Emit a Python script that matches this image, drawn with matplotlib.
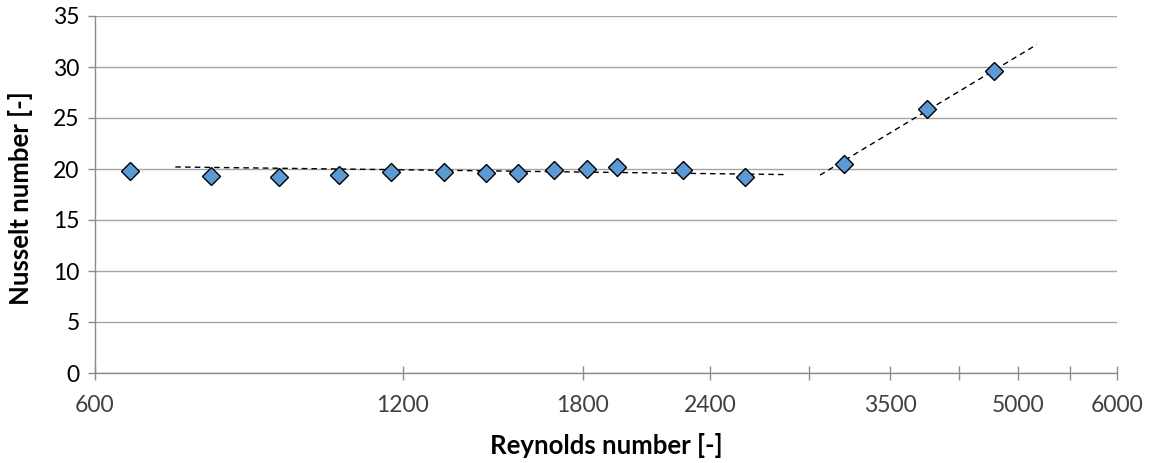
import matplotlib
matplotlib.use("Agg")
import matplotlib.pyplot as plt
from matplotlib.ticker import FixedLocator, FixedFormatter, NullLocator

# Data
reynolds = [649, 779, 909, 1040, 1168, 1317, 1448, 1557, 1688, 1817, 1947, 2258, 2595, 3243, 3909, 4548]
nusselt = [19.8, 19.35, 19.2, 19.4, 19.75, 19.75, 19.65, 19.65, 19.9, 20.0, 20.15, 19.95, 19.25, 20.45, 25.85, 29.6]

# Trend lines (dashed)
trend1_re = [719, 2858]
trend1_nu = [20.2, 19.45]
trend2_re = [3073, 5008]
trend2_nu = [19.4, 32.2]

# Axis ticks
x_ticks = [600, 1200, 1800, 2400, 3000, 3600, 4200, 4800, 5400, 6000]
x_tick_labels = ["600", "1200", "1800", "2400", "", "3500", "", "5000", "", "6000"]
y_ticks = [0, 5, 10, 15, 20, 25, 30, 35]

plt.rcParams['font.family'] = ['Lato', 'DejaVu Sans']

fig = plt.figure(figsize=(11.53, 4.63), dpi=100)
ax = fig.add_axes([95/1153, 1 - 373/463, (1117 - 95)/1153, (373 - 16)/463])

ax.set_xscale('log')
ax.set_xlim(600, 6000)
ax.set_ylim(0, 35)

ax.yaxis.set_major_locator(FixedLocator(y_ticks))
ax.xaxis.set_major_locator(FixedLocator(x_ticks))
ax.xaxis.set_major_formatter(FixedFormatter(x_tick_labels))
ax.xaxis.set_minor_locator(NullLocator())

ax.grid(axis='y', color='#A6A6A6', linewidth=1.0)
ax.set_axisbelow(True)

for s in ['top', 'right']:
    ax.spines[s].set_visible(False)
for s in ['left', 'bottom']:
    ax.spines[s].set_color('#8C8C8C')
    ax.spines[s].set_linewidth(1.0)

ax.tick_params(axis='y', direction='out', length=5, width=1, color='#8C8C8C',
               labelsize=16.5, pad=6, labelcolor='#000000')
ax.tick_params(axis='x', direction='inout', length=10, width=1, color='#8C8C8C',
               labelsize=16.5, pad=11, labelcolor='#404040')

ax.plot(trend1_re, trend1_nu, linestyle=(0, (4, 3)), color='black', linewidth=1.0, zorder=3)
ax.plot(trend2_re, trend2_nu, linestyle=(0, (4, 3)), color='black', linewidth=1.0, zorder=3)

ax.plot(reynolds, nusselt, linestyle='none', marker='D', markersize=8.8,
        markerfacecolor='#5B9BD5', markeredgecolor='black', markeredgewidth=1.0, zorder=4)

fig.text(606/1153, 1 - 445/463, 'Reynolds number [-]', fontsize=18.5, fontweight='bold',
         ha='center', va='center')
fig.text(21/1153, 1 - 198/463, 'Nusselt number [-]', fontsize=18.5, fontweight='bold',
         ha='center', va='center', rotation=90)

fig.savefig('out.png', dpi=100)
